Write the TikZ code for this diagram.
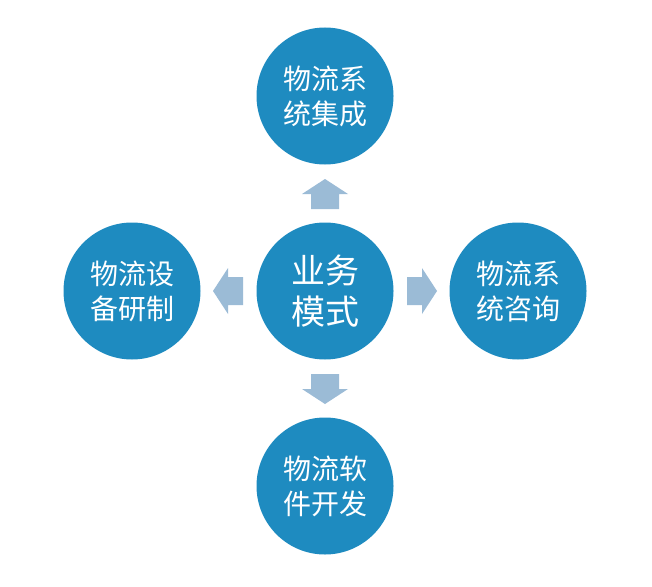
\documentclass[tikz,border=0pt]{standalone}
\usepackage{fontspec}
\newfontfamily\cjk{Noto Sans CJK SC}
\definecolor{circcol}{RGB}{30,139,192}
\definecolor{arrowcol}{RGB}{155,187,214}
\tikzset{
  bubble/.style={circle, fill=circcol, minimum size=137pt, inner sep=0pt, text=white, align=center},
  small/.style={bubble, font=\cjk\fontsize{28}{35}\selectfont},
  big/.style={bubble, font=\cjk\fontsize{34}{41}\selectfont},
  blockarrow/.pic={\fill[arrowcol] (0,-14) -- (15,-14) -- (15,-23) -- (30,0) -- (15,23) -- (15,14) -- (0,14) -- cycle;}
}
\begin{document}
\begin{tikzpicture}[x=1pt,y=-1pt]
\useasboundingbox (0,0) rectangle (652,586);
\node[big] (center) at (325,291) {业务\\模式};
\node[small] (top) at (325,96) {物流系\\统集成};
\node[small] (left) at (132,291) {物流设\\备研制};
\node[small] (right) at (518,291) {物流系\\统咨询};
\node[small] (bottom) at (325,486) {物流软\\件开发};
\pic[rotate=90] at (325,209) {blockarrow};
\pic[rotate=-90] at (325,374) {blockarrow};
\pic[rotate=180] at (243,291) {blockarrow};
\pic at (407,291) {blockarrow};
\end{tikzpicture}
\end{document}
